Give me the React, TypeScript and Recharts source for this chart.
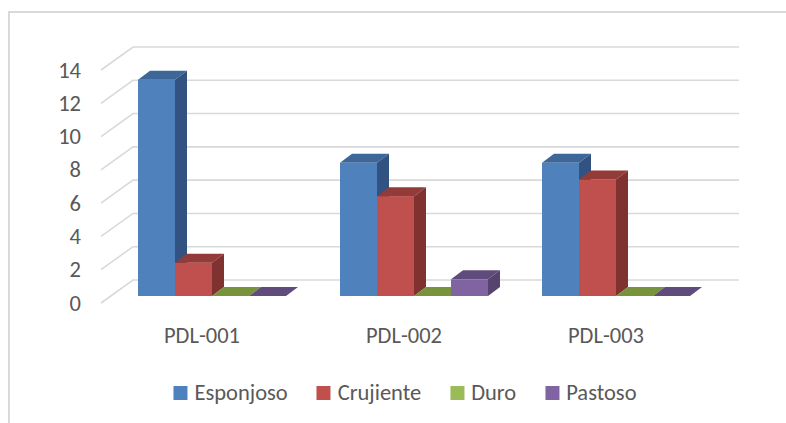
import { BarChart, Bar, XAxis, YAxis, CartesianGrid } from "recharts";

const categories = ["PDL-001", "PDL-002", "PDL-003"];
const esponjoso = [13, 8, 8];
const crujiente = [2, 6, 7];
const duro = [0, 0, 0];
const pastoso = [0, 1, 0];
const yTicks = [0, 2, 4, 6, 8, 10, 12, 14];

const series = [
  { key: "esponjoso", name: "Esponjoso", front: "#4f81bd", top: "#3d6799", side: "#325381" },
  { key: "crujiente", name: "Crujiente", front: "#c0504d", top: "#933b38", side: "#7f3230" },
  { key: "duro", name: "Duro", front: "#9bbb59", top: "#77933c", side: "#647d32" },
  { key: "pastoso", name: "Pastoso", front: "#8064a2", top: "#604b7d", side: "#56446f" },
];

const data = categories.map((name, i) => ({
  name,
  esponjoso: esponjoso[i],
  crujiente: crujiente[i],
  duro: duro[i],
  pastoso: pastoso[i],
}));

// fake perspective: offsets relative to the plane the bar fronts sit on
const FLOOR = { dx: -10, dy: 7 }; // front edge of the floor
const DEPTH = { dx: 12, dy: -9 }; // bar depth
const WALL = { dx: 22, dy: -16 }; // back wall

const FONT = "Carlito, Lato, sans-serif";
const FS = 22.5;
const TEXT = "#595959";
const GRID = "#d9d9d9";

function Box3D(props: any) {
  const { x, y, width, height, c } = props;
  const { dx, dy } = DEPTH;
  const b = y + height;
  return (
    <g>
      {height > 0 && <rect x={x} y={y} width={width} height={height} fill={c.front} />}
      <polygon
        points={`${x},${y} ${x + dx},${y + dy} ${x + width + dx},${y + dy} ${x + width},${y}`}
        fill={c.top}
      />
      {height > 0 && (
        <polygon
          points={`${x + width},${y} ${x + width + dx},${y + dy} ${x + width + dx},${b + dy} ${x + width},${b}`}
          fill={c.side}
        />
      )}
    </g>
  );
}

function GridLine(p: any) {
  const { x1, x2, y1 } = p;
  return (
    <polyline
      key={`g-${y1}`}
      points={`${x1 + FLOOR.dx},${y1 + FLOOR.dy} ${x1 + WALL.dx},${y1 + WALL.dy} ${x2 + WALL.dx},${y1 + WALL.dy}`}
      fill="none"
      stroke={GRID}
      strokeWidth={1.6}
    />
  );
}

function YTick(p: any) {
  return (
    <text
      x={p.x - 22}
      y={p.y + FLOOR.dy}
      textAnchor="end"
      dominantBaseline="central"
      fill={TEXT}
      fontSize={FS}
      fontFamily={FONT}
    >
      {p.payload.value}
    </text>
  );
}

function XTick(p: any) {
  return (
    <text
      x={p.x + FLOOR.dx}
      y={p.y + 39}
      textAnchor="middle"
      fill={TEXT}
      fontSize={FS}
      fontFamily={FONT}
    >
      {p.payload.value}
    </text>
  );
}

export default function App() {
  return (
    <div style={{ position: "relative", width: 786, height: 423, background: "#fff", overflow: "hidden" }}>
      <style>{"body{margin:0}"}</style>
      {/* chart area border, cropped on right and bottom */}
      <div
        style={{
          position: "absolute",
          left: 8,
          top: 11,
          width: 800,
          height: 430,
          borderLeft: `2px solid ${GRID}`,
          borderTop: `2px solid ${GRID}`,
        }}
      />
      <div style={{ position: "absolute", left: 0, top: 0 }}>
        <BarChart
          width={786}
          height={423}
          data={data}
          margin={{ top: 63, right: 69, bottom: 87, left: 51 }}
          barCategoryGap={27}
          barGap={0}
        >
          <CartesianGrid vertical={false} horizontal={GridLine} />
          <XAxis dataKey="name" axisLine={false} tickLine={false} height={40} tick={XTick} />
          <YAxis
            domain={[0, 14]}
            ticks={yTicks}
            axisLine={false}
            tickLine={false}
            width={60}
            tick={YTick}
          />
          {series.map((s) => (
            <Bar
              key={s.key}
              dataKey={s.key}
              name={s.name}
              fill={s.front}
              isAnimationActive={false}
              shape={(p: any) => <Box3D {...p} c={s} />}
            />
          ))}
        </BarChart>
      </div>
      {/* legend */}
      <div
        style={{
          position: "absolute",
          left: 405,
          top: 379,
          transform: "translateX(-50%)",
          display: "flex",
          gap: 29,
          whiteSpace: "nowrap",
          fontFamily: FONT,
          fontSize: FS,
          color: TEXT,
        }}
      >
        {series.map((s) => (
          <div key={s.key} style={{ display: "flex", alignItems: "center", gap: 7 }}>
            <span style={{ width: 14, height: 14, background: s.front, display: "inline-block" }} />
            <span>{s.name}</span>
          </div>
        ))}
      </div>
    </div>
  );
}
